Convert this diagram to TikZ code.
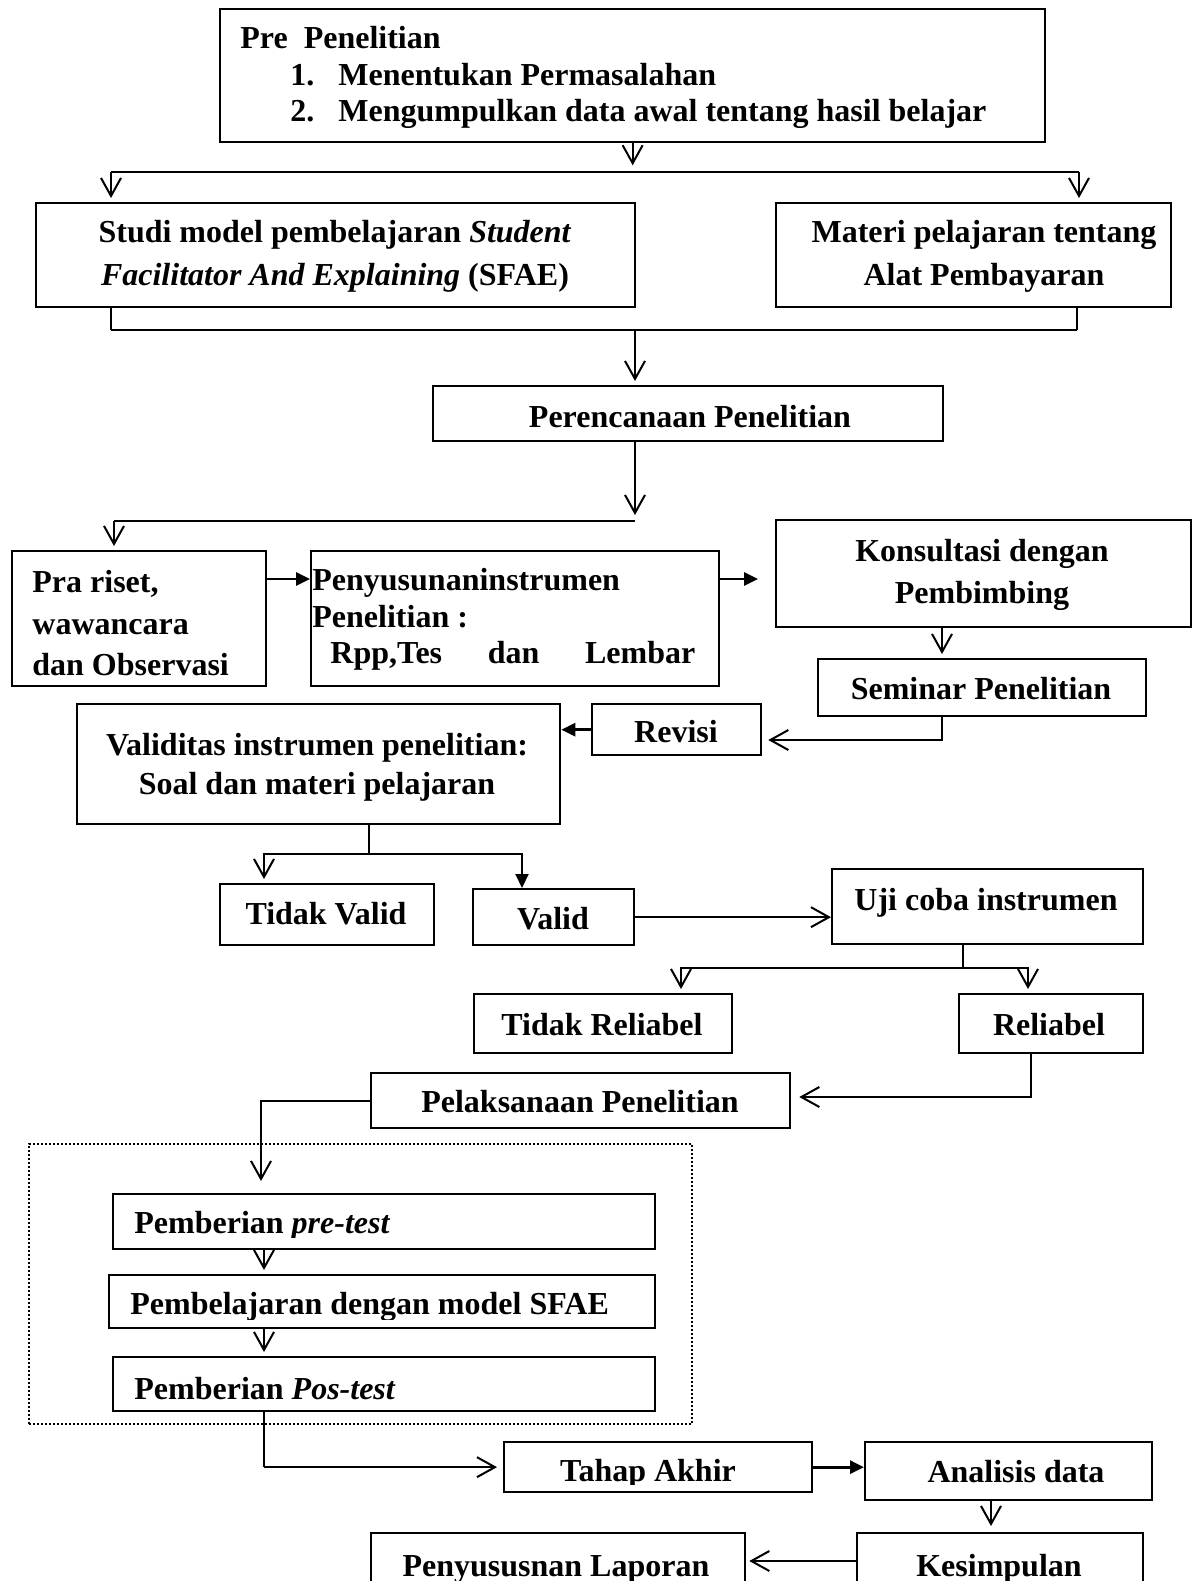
\documentclass[tikz,border=0pt]{standalone}
\usepackage{fontspec}
\setmainfont{Liberation Serif}
\usetikzlibrary{arrows.meta}
\usetikzlibrary{positioning}

\tikzset{
  box/.style={draw, line width=1.15pt, inner sep=0pt, anchor=north west},
  wh/.style 2 args={minimum width=#1*0.5pt, minimum height=#2*0.5pt},
  lbl/.style={inner sep=0pt, font=\bfseries\fontsize{16}{#1}\selectfont},
  lbl/.default=21pt,
  conn/.style={line width=1pt},
  stem/.style={line width=0.7pt},
  vtip/.style={conn, -{Straight Barb[length=9pt,width=10pt]}},
  ftip/.style={line width=1.4pt, -{Triangle[length=7pt,width=6.5pt]}},
}

\begin{document}
\begin{tikzpicture}[x=0.5pt, y=-0.5pt]
\useasboundingbox (0,0) rectangle (1198,1581);

% boxes
\node[box, wh={825}{133}] (pre) at (219,8) {};
\node[box, wh={599}{104}] (studi) at (35,202) {};
\node[box, wh={395}{104}] (materi) at (775,202) {};
\node[box, wh={510}{55}] (plan) at (432,385) {};
\node[box, wh={254}{135}] (pra) at (11,550) {};
\node[box, wh={408}{135}] (susun) at (310,550) {};
\node[box, wh={415}{107}] (konsul) at (775,519) {};
\node[box, wh={328}{57}] (seminar) at (817,658) {};
\node[box, wh={169}{51}] (revisi) at (591,703) {};
\node[box, wh={483}{120}] (validitas) at (76,703) {};
\node[box, wh={214}{61}] (tvalid) at (219,883) {};
\node[box, wh={161}{56}] (valid) at (472,888) {};
\node[box, wh={311}{75}] (uji) at (831,868) {};
\node[box, wh={258}{59}] (treli) at (473,993) {};
\node[box, wh={184}{59}] (reli) at (958,993) {};
\node[box, wh={419}{55}] (laksana) at (370,1072) {};
\node[draw, line width=1pt, dash pattern=on 1pt off 1pt, anchor=north west, wh={663}{280}] (grp) at (28,1143) {};
\node[box, wh={542}{55}] (pretest) at (112,1193) {};
\node[box, wh={546}{53}] (ajar) at (108,1274) {};
\node[box, wh={542}{54}] (postest) at (112,1356) {};
\node[box, wh={308}{50}] (tahap) at (503,1441) {};
\node[box, wh={287}{58}] (analisis) at (864,1441) {};
\node[box, wh={286}{80}] (kesimpulan) at (856,1532) {};
\node[box, wh={374}{80}] (laporan) at (370,1532) {};

% texts
\node[lbl=18.25pt, align=left, anchor=north west] (pretxt) at (240,26)
  {Pre\ \ Penelitian\\
   \hspace*{25pt}\makebox[24pt][l]{1.}Menentukan Permasalahan\\
   \hspace*{25pt}\makebox[24pt][l]{2.}Mengumpulkan data awal tentang hasil belajar};
\node[lbl=21.5pt, align=center, anchor=north] (studitxt) at (335,220)
  {Studi model pembelajaran \textit{Student}\\\textit{Facilitator And Explaining} (SFAE)};
\node[lbl=21.5pt, align=center, anchor=north] (materitxt) at (984,220)
  {Materi pelajaran tentang\\Alat Pembayaran};
\node[lbl, anchor=base] (plantxt) at (690,427) {Perencanaan Penelitian};
\begin{scope}
  \clip (pra.north west) rectangle ([yshift=6pt]pra.south east);
  \node[lbl=20.75pt, align=left, anchor=north west] (pratxt) at (32,570)
    {Pra riset,\\wawancara\\dan Observasi};
\end{scope}
\node[lbl=18.25pt, align=left, anchor=north west] (susuntxt) at (312,568)
  {Penyusunaninstrumen\\Penelitian :\\\hspace*{9pt}\hbox to 182.5pt{Rpp,Tes\hfill dan\hfill Lembar}};
\node[lbl, align=center, anchor=north] (konsultxt) at (982,539)
  {Konsultasi dengan\\Pembimbing};
\node[lbl, anchor=base] (seminartxt) at (981,699) {Seminar Penelitian};
\node[lbl, anchor=base] (revisitxt) at (676,742) {Revisi};
\node[lbl=19.5pt, align=center, anchor=north] (validitastxt) at (317,733)
  {Validitas instrumen penelitian:\\Soal dan materi pelajaran};
\node[lbl, anchor=base] (tvalidtxt) at (326,924) {Tidak Valid};
\node[lbl, anchor=base] (validtxt) at (553,929) {Valid};
\node[lbl, anchor=base] (ujitxt) at (986,910) {Uji coba instrumen};
\node[lbl, anchor=base] (trelitxt) at (602,1035) {Tidak Reliabel};
\node[lbl, anchor=base] (relitxt) at (1049,1035) {Reliabel};
\node[lbl, anchor=base] (laksanatxt) at (580,1112) {Pelaksanaan Penelitian};
\begin{scope}
  \clip (pretest.north west) rectangle ([yshift=6.5pt]pretest.south east);
  \node[lbl, anchor=base west] (pretesttxt) at (134,1233) {Pemberian \textit{pre-test}};
\end{scope}
\begin{scope}
  \clip (ajar.north west) rectangle ([yshift=5pt]ajar.south east);
  \node[lbl, anchor=base west] (ajartxt) at (130,1314) {Pembelajaran dengan model SFAE};
\end{scope}
\node[lbl, anchor=base west] (postesttxt) at (134,1399) {Pemberian \textit{Pos-test}};
\begin{scope}
  \clip (tahap.north west) rectangle ([yshift=4.5pt]tahap.south east);
  \node[lbl, anchor=base] (tahaptxt) at (648,1481) {Tahap Akhir};
\end{scope}
\node[lbl, anchor=base] (analisistxt) at (1016,1482) {Analisis data};
\node[lbl, anchor=base] (kesimpulantxt) at (999,1576) {Kesimpulan};
\node[lbl, anchor=base] (laporantxt) at (556,1576) {Penyususnan Laporan};

% connectors
\draw[vtip] (pre.south) -- ++(0,22);
\coordinate (s1) at (111,172);
\coordinate (s2) at (1079,172);
\draw[conn] (s1) -- (s2);
\draw[vtip, shorten >=2pt] (s1) -- (s1 |- studi.north);
\draw[vtip, shorten >=2pt] (s2) -- (s2 |- materi.north);

\coordinate (j1) at (111,330);
\coordinate (j2) at (1077,330);
\coordinate (j3) at (635,330);
\draw[stem] (j1 |- studi.south) -- (j1);
\draw[stem] (j2 |- materi.south) -- (j2);
\draw[conn] (j1) -- (j2);
\draw[vtip, shorten >=2pt] (j3) -- (j3 |- plan.north);

\coordinate (j4) at (635,521);
\coordinate (j5) at (114,521);
\draw[vtip, shorten >=3pt] (j3 |- plan.south) -- (j4);
\draw[conn] (j4) -- (j5);
\draw[vtip, shorten >=2pt] (j5) -- (j5 |- pra.north);

\coordinate (r1) at (265,579);
\coordinate (r2) at (758,579);
\draw[ftip] (r1) -- (r1 -| susun.west);
\draw[ftip] (r2 -| susun.east) -- (r2);

\coordinate (k1) at (942,640);
\coordinate (k2) at (942,740);
\draw[vtip, shorten >=2pt] (k1 |- konsul.south) -- (k1 |- seminar.north);
\draw[vtip, shorten >=3pt] (k2 |- seminar.south) -- (k2) -- (k2 -| revisi.east);
\draw[ftip] (revisi.west) -- (revisi.west -| validitas.east);

\coordinate (v1) at (369,854);
\coordinate (v2) at (264,854);
\coordinate (v3) at (522,854);
\draw[stem] (v1 |- validitas.south) -- (v1);
\draw[vtip, shorten >=2pt] (v1) -- (v2) -- (v2 |- tvalid.north);
\draw[conn, -{Triangle[length=7pt,width=6.5pt]}] (v1) -- (v3) -- (v3 |- valid.north);
\draw[vtip] (valid.east) -- (valid.east -| uji.west);

\coordinate (u1) at (963,968);
\coordinate (u2) at (681,968);
\coordinate (u3) at (1028,968);
\draw[stem] (u1 |- uji.south) -- (u1);
\draw[vtip, shorten >=2pt] (u1) -- (u2) -- (u2 |- treli.north);
\draw[vtip, shorten >=2pt] (u1) -- (u3) -- (u3 |- reli.north);

\coordinate (l1) at (1031,1097);
\coordinate (l2) at (261,1181);
\draw[vtip, shorten >=4pt] (l1 |- reli.south) -- (l1) -- (l1 -| laksana.east);
\draw[vtip] (laksana.west) -| (l2);

\coordinate (p1) at (264,1300);
\draw[vtip, shorten >=2pt] (p1 |- pretest.south) -- (p1 |- ajar.north);
\draw[vtip, shorten >=2pt] (p1 |- ajar.south) -- (p1 |- postest.north);
\draw[stem] (p1 |- postest.south) -- (p1 |- tahap.west);
\draw[vtip, shorten >=3pt] (p1 |- tahap.west) -- (tahap.west);
\draw[ftip] (tahap.east) -- (tahap.east -| analisis.west);

\coordinate (a1) at (991,1510);
\coordinate (a2) at (856,1561);
\draw[vtip, shorten >=3pt] (a1 |- analisis.south) -- (a1 |- kesimpulan.north);
\draw[vtip, shorten >=1.5pt] (a2) -- (a2 -| laporan.east);
\end{tikzpicture}
\end{document}
